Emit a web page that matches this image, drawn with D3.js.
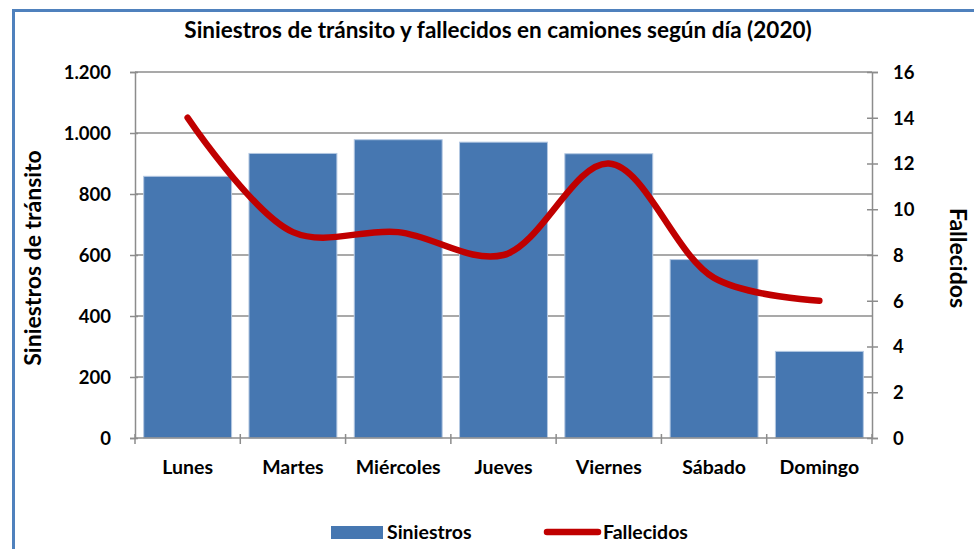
<!DOCTYPE html>
<html>
<head>
<meta charset="utf-8">
<script src="https://cdn.jsdelivr.net/npm/d3@7"></script>
<style>
body { margin: 0; background: #fff; overflow: hidden; }
text { font-family: Lato, "Open Sans", sans-serif; font-weight: bold; fill: #000; }
</style>
</head>
<body>
<div id="container"></div>
<script>
// datos
var dias = ["Lunes", "Martes", "Miércoles", "Jueves", "Viernes", "Sábado", "Domingo"];
var siniestros = [858, 933, 978, 970, 932, 585, 284];
var fallecidos = [14, 9, 9, 8, 12, 7, 6];
var ticksIzq = [0, 200, 400, 600, 800, 1000, 1200];
var ticksDer = [0, 2, 4, 6, 8, 10, 12, 14, 16];

var svgAttr = { width: 974, height: 549 };
var margin = { top: 72, right: 102, bottom: 111, left: 135 };
var innerW = svgAttr.width - margin.left - margin.right;
var innerH = svgAttr.height - margin.top - margin.bottom;

var svg = d3.select("#container").append("svg")
    .attr("width", svgAttr.width).attr("height", svgAttr.height);

// marco azul
svg.append("rect").attr("x", 13.5).attr("y", 10.5)
    .attr("width", 1000).attr("height", 600)
    .attr("fill", "none").attr("stroke", "#4f81bd").attr("stroke-width", 3);

var esLocale = d3.formatLocale({ decimal: ",", thousands: ".", grouping: [3], currency: ["$", ""] });
var fmt = esLocale.format(",");

var x = d3.scaleBand().domain(dias).range([0, innerW]).paddingInner(0.165).paddingOuter(0.0825);
var yIzq = d3.scaleLinear().domain([0, 1200]).range([innerH, 0]);
var yDer = d3.scaleLinear().domain([0, 16]).range([innerH, 0]);

var g = svg.append("g").attr("transform", "translate(" + margin.left + "," + margin.top + ")");

// rejilla
g.append("g").selectAll("line").data(ticksIzq.slice(1)).enter().append("line")
    .attr("x1", 0).attr("x2", innerW)
    .attr("y1", function (d) { return yIzq(d); })
    .attr("y2", function (d) { return yIzq(d); })
    .attr("stroke", "#8c8c8c").attr("stroke-width", 1.5);

// barras
g.append("g").selectAll("rect").data(siniestros).enter().append("rect")
    .attr("x", function (d, i) { return x(dias[i]); })
    .attr("y", function (d) { return yIzq(d); })
    .attr("width", x.bandwidth())
    .attr("height", function (d) { return innerH - yIzq(d); })
    .attr("fill", "#4677b1")
    .attr("stroke", "#b4c8e2").attr("stroke-width", 1);

// eje izquierdo
var ejeIzq = g.append("g").call(d3.axisLeft(yIzq).tickValues(ticksIzq).tickFormat(fmt).tickSize(5).tickPadding(19));
ejeIzq.select(".domain").attr("stroke", "#8c8c8c").attr("stroke-width", 1.5);
ejeIzq.selectAll(".tick line").attr("x1", 3).attr("stroke", "#8c8c8c").attr("stroke-width", 1.5);
ejeIzq.selectAll("text").style("font-size", "18.5px").attr("dy", "0.35em");

// eje derecho
var ejeDer = g.append("g").attr("transform", "translate(" + innerW + ",0)")
    .call(d3.axisRight(yDer).tickValues(ticksDer).tickSize(6).tickPadding(15));
ejeDer.select(".domain").attr("stroke", "#8c8c8c").attr("stroke-width", 1.5);
ejeDer.selectAll(".tick line").attr("x1", -5).attr("stroke", "#8c8c8c").attr("stroke-width", 1.5);
ejeDer.selectAll("text").style("font-size", "18.5px").attr("dy", "0.35em");

// eje x
var bordes = dias.map(function (d, i) { return i * x.step(); }).concat([innerW]);
var ejeX = g.append("g").attr("transform", "translate(0," + innerH + ")");
ejeX.append("line").attr("x1", 0).attr("x2", innerW)
    .attr("stroke", "#8c8c8c").attr("stroke-width", 1.5);
ejeX.selectAll(".tk").data(bordes).enter().append("line")
    .attr("x1", function (d) { return d; }).attr("x2", function (d) { return d; })
    .attr("y1", -4).attr("y2", 6)
    .attr("stroke", "#8c8c8c").attr("stroke-width", 1.5);
ejeX.selectAll(".lbl").data(dias).enter().append("text")
    .attr("x", function (d) { return x(d) + x.bandwidth() / 2; })
    .attr("y", 36)
    .attr("text-anchor", "middle")
    .style("font-size", "19.5px")
    .text(function (d) { return d; });

// linea fallecidos
var linea = d3.line()
    .x(function (d, i) { return x(dias[i]) + x.bandwidth() / 2; })
    .y(function (d) { return yDer(d); })
    .curve(d3.curveCatmullRom);
g.append("path").datum(fallecidos)
    .attr("d", linea)
    .attr("fill", "none").attr("stroke", "#c00000")
    .attr("stroke-width", 6.5).attr("stroke-linecap", "round").attr("stroke-linejoin", "round");

// titulos
svg.append("text").attr("x", 498).attr("y", 38).attr("text-anchor", "middle")
    .style("font-size", "22.5px")
    .text("Siniestros de tránsito y fallecidos en camiones según día (2020)");
svg.append("text").attr("transform", "translate(41,258) rotate(-90)")
    .attr("text-anchor", "middle").style("font-size", "23px")
    .text("Siniestros de tránsito");
svg.append("text").attr("transform", "translate(950,258) rotate(90)")
    .attr("text-anchor", "middle").style("font-size", "23px")
    .text("Fallecidos");

// leyenda
var ley = svg.append("g");
ley.append("rect").attr("x", 331).attr("y", 526).attr("width", 52).attr("height", 13).attr("fill", "#4677b1");
ley.append("text").attr("x", 387).attr("y", 539).style("font-size", "19.5px").text("Siniestros");
ley.append("line").attr("x1", 547).attr("x2", 598).attr("y1", 532).attr("y2", 532)
    .attr("stroke", "#c00000").attr("stroke-width", 6.5).attr("stroke-linecap", "round");
ley.append("text").attr("x", 603).attr("y", 539).style("font-size", "19.5px").text("Fallecidos");
</script>
</body>
</html>
